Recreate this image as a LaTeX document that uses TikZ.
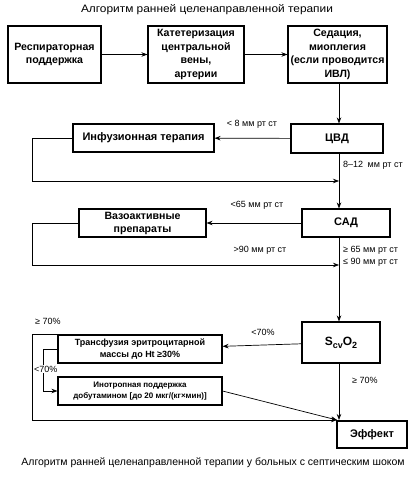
\documentclass[tikz,border=0pt]{standalone}
\usepackage{fontspec}
\setmainfont{Liberation Sans}
\newfontfamily\wideFont[FakeStretch=1.1]{Liberation Sans}
\usetikzlibrary{arrows.meta,calc}
\begin{document}
\begin{tikzpicture}[x=1pt,y=-1pt,
  box/.style={draw,line width=1.1pt,align=center,font=\bfseries\fontsize{10.6}{13.8}\selectfont,inner sep=2pt},
  conn/.style={line width=0.7pt,-{Stealth[length=6pt,width=4.5pt]}},
  lbl/.style={font=\fontsize{9}{11}\selectfont,inner sep=0pt},
  ttl/.style={font=\fontsize{10.5}{12}\selectfont,inner sep=0pt}]
\useasboundingbox (0,0) rectangle (414,486);
\node[ttl,font=\wideFont\fontsize{10.8}{12}\selectfont] (title) at (207,10) {Алгоритм ранней целенаправленной терапии};
\node[box,minimum width=93pt,minimum height=57pt] (b1) at (54.5,54.5) {Респираторная\\поддержка};
\node[box,minimum width=96pt,minimum height=57pt] (b2) at (196,54.5) {Катетеризация\\центральной\\вены,\\артерии};
\node[box,minimum width=99pt,minimum height=57pt] (b3) at (337.5,54.5) {Седация,\\миоплегия\\(если проводится\\ИВЛ)};
\node[box,minimum width=92pt,minimum height=29pt,font=\bfseries\fontsize{11}{14}\selectfont] (cvd) at (337,138.5) {ЦВД};
\node[box,minimum width=141pt,minimum height=28pt,font=\bfseries\fontsize{11}{14}\selectfont] (inf) at (143.5,138) {Инфузионная терапия};
\node[box,minimum width=88pt,minimum height=28pt,font=\bfseries\fontsize{11}{14}\selectfont] (sad) at (346,223) {САД};
\node[box,minimum width=127pt,minimum height=28pt,font=\bfseries\fontsize{10.6}{13}\selectfont] (vaso) at (142.5,223) {Вазоактивные\\препараты};
\node[box,minimum width=78pt,minimum height=41pt,font=\bfseries\fontsize{12}{14}\selectfont] (scv) at (341,342.5) {S\raisebox{-0.45ex}{\fontsize{9}{9}\selectfont cv}O\raisebox{-0.45ex}{\fontsize{9}{9}\selectfont 2}};
\node[box,font=\bfseries\fontsize{9}{12}\selectfont,minimum width=164pt,minimum height=28pt] (trans) at (140,349) {Трансфузия эритроцитарной\\массы до Ht ≥30\%};
\node[box,font=\bfseries\fontsize{8}{10.5}\selectfont,minimum width=164pt,minimum height=28pt] (ino) at (140,391) {Инотропная поддержка\\добутамином [до 20 мкг/(кг×мин)]};
\node[box,minimum width=70pt,minimum height=27pt,font=\bfseries\fontsize{11}{14}\selectfont] (eff) at (372,434.5) {Эффект};
\node[ttl] (caption) at (213,463) {Алгоритм ранней целенаправленной терапии у больных с септическим шоком};
\coordinate (mx) at (339,0);
\coordinate (lx) at (32,0);
\coordinate (ix) at (43,0);
\coordinate (j1) at (339,181);
\coordinate (j2) at (339,265);
\coordinate (ej) at (337,420);
% top row
\draw[conn] (b1) -- (b2);
\draw[conn] (b2) -- (b3);
\draw[conn] (b3.south -| mx) -- (cvd.north -| mx);
% CVD
\draw[conn] (cvd) -- (inf);
\node[lbl] (l8) at (252,124) {< 8 мм рт ст};
\draw[conn] (inf.west) -- (inf.west -| lx) -- (j1 -| lx) -- (j1);
\draw[conn] (cvd.south -| mx) -- (sad.north -| mx);
\node[lbl,anchor=west] (l812) at (343,165) {8--12\enspace мм рт ст};
% SAD
\draw[conn] (sad) -- (vaso);
\node[lbl] (l65) at (257,205) {<65 мм рт ст};
\draw[conn] (vaso.west) -- (vaso.west -| lx) -- (j2 -| lx) -- (j2);
\node[lbl] (l90) at (260,250) {>90 мм рт ст};
\node[lbl,anchor=west] (lr1) at (343,250) {≥ 65 мм рт ст};
\node[lbl,anchor=west] (lr2) at (343,262) {≤ 90 мм рт ст};
\draw[conn] (sad.south -| mx) -- (scv.north -| mx);
% ScvO2
\draw[conn] (scv) -- (trans);
\node[lbl] (l70) at (263,332) {<70\%};
\draw[conn] (trans.west) -- (trans.west -| ix) -- (ino.west -| ix) -- (ino.west);
\node[lbl,anchor=west,fill=white,inner sep=1pt] (l70b) at (33,369) {<70\%};
\draw[conn] (trans.north west) -- (trans.north west -| lx) -- (ej -| lx) -- (ej);
\node[lbl,anchor=west] (l70t) at (35,321) {≥ 70\%};
\draw[conn] (scv.south -| mx) -- (ej -| mx);
\node[lbl,anchor=west] (l70r) at (352,380) {≥ 70\%};
\draw[conn] (ino.east) -- (ej);
\end{tikzpicture}
\end{document}
